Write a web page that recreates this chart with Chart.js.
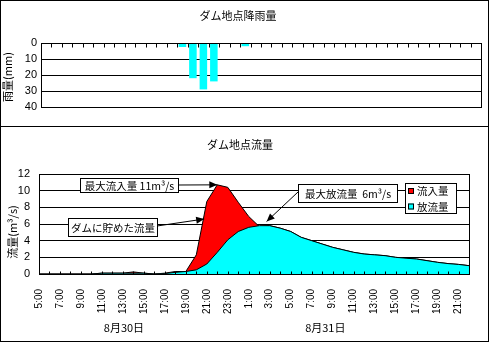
<!DOCTYPE html>
<html><head><meta charset="utf-8">
<script src="https://cdn.jsdelivr.net/npm/chart.js@4.4.1/dist/chart.umd.min.js"></script>
<style>
html,body{margin:0;padding:0;background:#fff;}
.frame{position:absolute;left:0;width:489px;box-sizing:border-box;border:1px solid #000;background:#fff;}
#f1{top:0;height:127px;}
#f2{top:126px;height:216px;}
.cw{position:absolute;left:0;top:0;width:487px;}
#f1 .cw{height:125px;}
#f2 .cw{height:214px;}
</style></head><body>
<div class="frame" id="f1"><div class="cw"><canvas id="c1"></canvas></div></div>
<div class="frame" id="f2"><div class="cw"><canvas id="c2"></canvas></div></div>
<script>
// ---- data ----
const hours = ['5:00','6:00','7:00','8:00','9:00','10:00','11:00','12:00','13:00','14:00','15:00','16:00','17:00','18:00','19:00','20:00','21:00','22:00','23:00',
               '0:00','1:00','2:00','3:00','4:00','5:00','6:00','7:00','8:00','9:00','10:00','11:00','12:00','13:00','14:00','15:00','16:00','17:00','18:00','19:00','20:00','21:00','22:00'];
const rainfall = [0,0,0,0,0,0,0,0,0,0,0,0,0,2.5,22,29,24,0,0,2,0,0,0,0,0,0,0,0,0,0,0,0,0,0,0,0,0,0,0,0,0,0];
const inflow  = [0,0,0,0,0,0,0.1,0.1,0.1,0.25,0.1,0,0.1,0.3,0.3,2.3,8.7,10.7,10.4,8.6,6.9,5.7,5.8,5.5,5.1,4.4,4.0,3.6,3.2,2.9,2.6,2.4,2.3,2.2,2.0,1.9,1.8,1.6,1.4,1.25,1.15,1.0];
const outflow = [0,0,0,0,0,0,0.1,0.1,0.1,0.1,0.1,0,0.05,0.2,0.3,0.5,1.2,2.6,4.1,5.1,5.6,5.8,5.8,5.5,5.1,4.4,4.0,3.6,3.2,2.9,2.6,2.4,2.3,2.2,2.0,1.9,1.8,1.6,1.4,1.25,1.15,1.0];
const seriesNames = ['流入量','放流量'];
const seriesColors = ['#ff0000','#00ffff'];
const rainTicks = {min:0, max:40, step:10};
const flowTicks = {min:0, max:12, step:2};
const dateLabels = [{text:'8月30日', at:8.1},{text:'8月31日', at:27.3}];

const FONT = "'Liberation Sans','Noto Sans CJK JP',sans-serif";
const JFONT = "'Noto Sans CJK JP','Liberation Sans',sans-serif";

function arrow(ctx,x1,y1,x2,y2){
  ctx.beginPath();ctx.moveTo(x1,y1);ctx.lineTo(x2,y2);ctx.stroke();
  const a=Math.atan2(y2-y1,x2-x1), L=8, W=3.5;
  ctx.beginPath();
  ctx.moveTo(x2,y2);
  ctx.lineTo(x2-L*Math.cos(a)+W*Math.sin(a), y2-L*Math.sin(a)-W*Math.cos(a));
  ctx.lineTo(x2-L*Math.cos(a)-W*Math.sin(a), y2-L*Math.sin(a)+W*Math.cos(a));
  ctx.closePath();ctx.fill();
}
function box(ctx,x,y,w,h,text){
  ctx.fillStyle='#fff';ctx.fillRect(x,y,w,h);
  ctx.strokeStyle='#000';ctx.lineWidth=1;ctx.strokeRect(x+0.5,y+0.5,w,h);
  ctx.fillStyle='#000';ctx.textAlign='center';ctx.textBaseline='middle';
  ctx.font='10.5px '+JFONT;
  ctx.fillText(text,x+w/2+0.5,y+h/2+1);
}
function rotText(ctx,text,x,y,font){
  ctx.save();ctx.translate(x,y);ctx.rotate(-Math.PI/2);
  ctx.font=font;ctx.textAlign='center';ctx.textBaseline='middle';ctx.fillStyle='#000';
  ctx.fillText(text,0,0);ctx.restore();
}

// ---- top chart: rainfall ----
const rainDeco = {
  id:'rainDeco',
  afterDraw(chart){
    const {ctx, chartArea:a, scales:{x}} = chart;
    ctx.save();
    ctx.strokeStyle='#000';ctx.lineWidth=1;
    const L=Math.round(a.left)+0.5, T=Math.round(a.top)+0.5, R=Math.round(a.right)+0.5, B=Math.round(a.bottom)+0.5;
    ctx.strokeRect(L,T,R-L,B-T);
    ctx.beginPath();
    for(let i=1;i<hours.length;i++){
      const px=Math.round(x.getPixelForValue(i-0.5))+0.5;
      ctx.moveTo(px,T);ctx.lineTo(px,T+4);
    }
    ctx.stroke();
    ctx.fillStyle='#000';ctx.font='11px '+JFONT;ctx.textAlign='center';ctx.textBaseline='middle';
    ctx.fillText('ダム地点降雨量',237,15);
    rotText(ctx,'雨量(mm)',7,76,'11px '+JFONT);
    ctx.restore();
  }
};
new Chart(document.getElementById('c1'),{
  type:'bar',
  data:{labels:hours,datasets:[{data:rainfall,backgroundColor:'#00ffff',borderWidth:0,categoryPercentage:1,barPercentage:0.72}]},
  options:{
    responsive:true,maintainAspectRatio:false,animation:false,
    layout:{padding:{left:0,right:7,top:42,bottom:19}},
    plugins:{legend:{display:false},tooltip:{enabled:false},title:{display:false}},
    scales:{
      x:{display:false,offset:true},
      y:{min:rainTicks.min,max:rainTicks.max,reverse:true,
         ticks:{stepSize:rainTicks.step,autoSkip:false,padding:4,color:'#000',font:{family:FONT,size:11}},
         grid:{color:'#000',drawTicks:false},border:{display:false},
         afterFit(s){s.width=40;}}
    }
  },
  plugins:[rainDeco]
});

// ---- bottom chart: flow ----
const flowDeco = {
  id:'flowDeco',
  afterDraw(chart){
    const {ctx, chartArea:a, scales:{x,y}} = chart;
    ctx.save();
    ctx.strokeStyle='#000';ctx.lineWidth=1;
    const L=Math.round(a.left)+0.5, T=Math.round(a.top)+0.5, R=Math.round(a.right)+0.5, B=Math.round(a.bottom)+0.5;
    ctx.strokeRect(L,T,R-L,B-T);
    ctx.beginPath();
    for(let i=1;i<hours.length;i++){
      const px=Math.round(x.getPixelForValue(i))+0.5;
      ctx.moveTo(px,B);ctx.lineTo(px,B-3);
    }
    ctx.stroke();
    // titles
    ctx.fillStyle='#000';ctx.font='11px '+JFONT;ctx.textAlign='center';ctx.textBaseline='middle';
    ctx.fillText('ダム地点流量',239,18);
    rotText(ctx,'流量(m³/s)',12,105,'11px '+JFONT);
    ctx.font='11px '+JFONT;ctx.textAlign='center';ctx.textBaseline='middle';ctx.fillStyle='#000';
    dateLabels.forEach(d=>ctx.fillText(d.text,x.getPixelForValue(d.at),201));
    // annotations
    ctx.fillStyle='#000';ctx.strokeStyle='#000';ctx.lineWidth=1;
    const iMax = inflow.indexOf(Math.max(...inflow));
    arrow(ctx,177,58,x.getPixelForValue(iMax),y.getPixelForValue(inflow[iMax]));
    arrow(ctx,156,99,x.getPixelForValue(15.75),y.getPixelForValue(6.6));
    arrow(ctx,297,65,x.getPixelForValue(21.7),y.getPixelForValue(6.3));
    box(ctx,79,51,98,14,'最大流入量 11m³/s');
    box(ctx,67,91,89,18,'ダムに貯めた流量');
    box(ctx,297,57,99,18,'最大放流量  6m³/s');
    // legend
    const lx=404, ly=56, lw=51, lh=30;
    ctx.fillStyle='#fff';ctx.fillRect(lx,ly,lw,lh);
    ctx.strokeStyle='#000';ctx.strokeRect(lx+0.5,ly+0.5,lw,lh);
    chart.data.datasets.forEach((ds,k)=>{
      const yy = ly+5+k*15.5;
      ctx.fillStyle=ds.backgroundColor;ctx.fillRect(lx+3,yy,6,6);
      ctx.strokeStyle='#000';ctx.strokeRect(lx+3.5,yy+0.5,5,5);
      ctx.fillStyle='#000';ctx.font='10.5px '+JFONT;ctx.textAlign='left';ctx.textBaseline='middle';
      ctx.fillText(ds.label,lx+12,yy+3.5);
    });
    ctx.restore();
  }
};
new Chart(document.getElementById('c2'),{
  type:'line',
  data:{labels:hours,datasets:[
    {label:seriesNames[0],data:inflow,fill:'origin',backgroundColor:seriesColors[0],borderColor:'#000',borderWidth:1,pointRadius:0,tension:0,order:1},
    {label:seriesNames[1],data:outflow,fill:'origin',backgroundColor:seriesColors[1],borderColor:'#000',borderWidth:1,pointRadius:0,tension:0,order:0}
  ]},
  options:{
    responsive:true,maintainAspectRatio:false,animation:false,
    layout:{padding:{left:0,right:9,top:47,bottom:0}},
    plugins:{legend:{display:false},tooltip:{enabled:false},title:{display:false}},
    scales:{
      x:{offset:false,grid:{display:false},border:{display:false},
         ticks:{autoSkip:false,maxRotation:90,minRotation:90,padding:7,color:'#000',font:{family:FONT,size:10},
                callback:(v,i)=> i%2===0 ? hours[i] : ''},
         afterFit(s){s.height=67;}},
      y:{min:flowTicks.min,max:flowTicks.max,
         ticks:{stepSize:flowTicks.step,autoSkip:false,padding:9,color:'#000',font:{family:FONT,size:11}},
         grid:{color:'#000',drawTicks:false},border:{display:false},
         afterFit(s){s.width=38;}}
    }
  },
  plugins:[flowDeco]
});
</script>
</body></html>
